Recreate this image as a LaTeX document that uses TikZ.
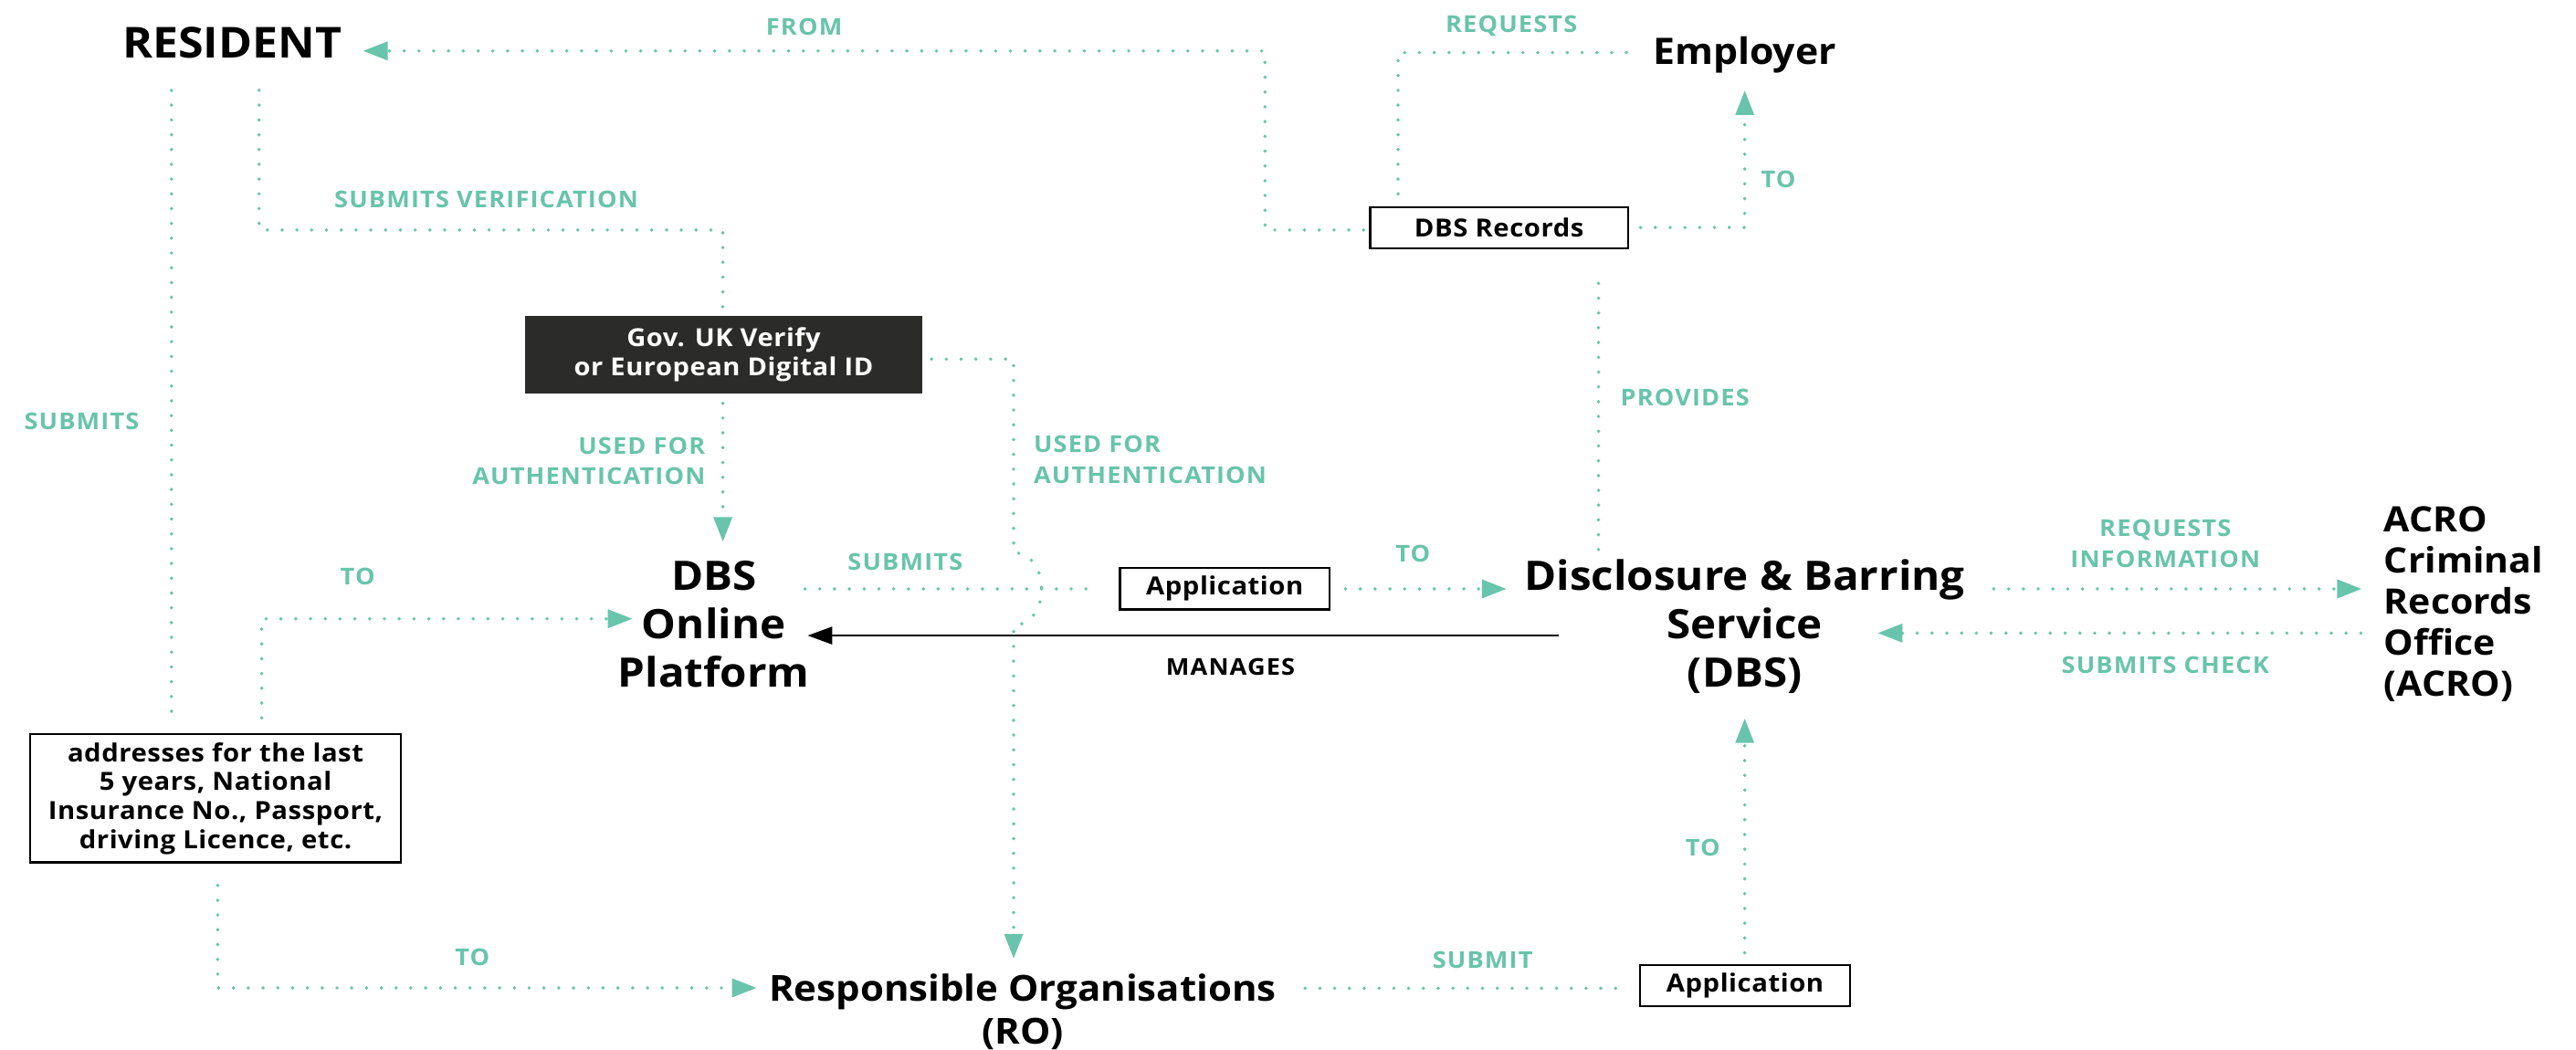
\documentclass[tikz,border=0pt]{standalone}
\usepackage{fontspec}
\setmainfont{Open Sans}[FakeStretch=1.07]
\newfontfamily\lblfont{Open Sans}[FakeStretch=1.07,LetterSpace=4.5]
\newfontfamily\boxfont{Open Sans}[FakeStretch=1.07,LetterSpace=2]
\usetikzlibrary{arrows.meta}
\definecolor{teal1}{RGB}{104,196,170}
\definecolor{govbg}{RGB}{43,43,41}
\begin{document}
\begin{tikzpicture}[x=1pt,y=-1pt,
  dotline/.style={draw=teal1, line width=2.2pt, line cap=round, dash pattern=on 0pt off 9pt},
  tip/.style={-{Triangle[length=15pt,width=11pt]}},
  lbl/.style={text=teal1, font=\lblfont\bfseries\fontsize{14.1}{18.8}\selectfont, inner sep=0pt},
  big/.style={font=\bfseries\fontsize{24.7}{29.5}\selectfont, align=center, inner sep=0pt},
  mid/.style={font=\bfseries\fontsize{21.3}{25}\selectfont, inner sep=0pt},
  box/.style={draw=black, line width=1.2pt, font=\boxfont\bfseries\fontsize{15.2}{17.6}\selectfont, align=center, inner sep=0pt},
]
\useasboundingbox (0,0) rectangle (1568,638.67);

% ---- main nodes
\node[font=\bfseries\fontsize{26}{30}\selectfont, inner sep=0pt, anchor=base] (resident) at (141.3,35.2) {RESIDENT};
\node[font=\bfseries\fontsize{22.2}{26}\selectfont, inner sep=0pt, anchor=base] (employer) at (1062,39.3) {Employer};
\node[box, minimum width=157pt, minimum height=25pt] (dbsrec) at (912.5,138.5) {DBS Records};
\node[box, draw=govbg, fill=govbg, text=white, font=\boxfont\bfseries\fontsize{15.1}{17.8}\selectfont, minimum width=241pt, minimum height=46pt] (gov) at (440.5,216) {Gov. UK Verify\\or European Digital ID};
\node[big] (dbsop) at (434.5,380) {DBS\\Online\\Platform};
\node[big] (dbs) at (1062,381.5) {Disclosure \& Barring\\Service\\(DBS)};
\node[mid, align=left, anchor=west] (acro) at (1451,368) {ACRO\\Criminal\\Records\\Office\\(ACRO)};
\node[box, minimum width=225.6pt, minimum height=78pt] (addr) at (131.2,486) {addresses for the last\\5 years, National\\Insurance No., Passport,\\driving Licence, etc.};
\node[mid, align=center, font=\bfseries\fontsize{21.8}{26}\selectfont] (ro) at (622.5,616) {Responsible Organisations\\(RO)};
\node[box, minimum width=127.5pt, minimum height=25.4pt] (app1) at (745.5,358.3) {Application};
\node[box, minimum width=127.6pt, minimum height=25pt] (app2) at (1062.2,599.9) {Application};

% ---- connector end points
\coordinate (fromA) at (830,140);
\coordinate (fromB) at (770,140);
\coordinate (fromC) at (770,31);
\coordinate (fromT) at (221,31);
\coordinate (reqA) at (990,32);
\coordinate (reqB) at (851,32);
\coordinate (reqC) at (851,121);
\coordinate (toeA) at (998.6,138.5);
\coordinate (toeB) at (1062,138.5);
\coordinate (toeT) at (1062,55);
\coordinate (provA) at (973,334.5);
\coordinate (provB) at (973,164);
\coordinate (svA) at (157.7,55);
\coordinate (svB) at (157.7,140);
\coordinate (svC) at (440,140);
\coordinate (svD) at (440,192.7);
\coordinate (ulA) at (440,245.5);
\coordinate (ulT) at (440,329.8);
\coordinate (urA) at (567,218.6);
\coordinate (urB) at (617,218.6);
\coordinate (urC) at (617,336.5);
\coordinate (urD) at (617,380.5);
\coordinate (urT) at (617,583.6);
\coordinate (sbA) at (104.4,55);
\coordinate (sbB) at (104.4,437.6);
\coordinate (tuA) at (159.3,437);
\coordinate (tuB) at (159.3,376.7);
\coordinate (tuT) at (385,376.7);
\coordinate (tlA) at (132.5,539);
\coordinate (tlB) at (132.5,601.4);
\coordinate (tlT) at (460.6,601.4);
\coordinate (smA) at (490,358.5);
\coordinate (smB) at (669,358.5);
\coordinate (tmA) at (819,358.5);
\coordinate (tmT) at (917,358.5);
\coordinate (mgA) at (949,386.9);
\coordinate (mgT) at (491.6,386.9);
\coordinate (riA) at (1213.6,358.5);
\coordinate (riT) at (1437.6,358.5);
\coordinate (scA) at (1437,385.4);
\coordinate (scT) at (1143,385.4);
\coordinate (suA) at (794.4,601.6);
\coordinate (suB) at (988.3,601.6);
\coordinate (tbA) at (1062,580);
\coordinate (tbT) at (1062,437.3);

% ---- connectors
\draw[dotline,tip] (fromA) -- (fromB) -- (fromC) -- (fromT);
\draw[dotline] (reqA) -- (reqB) -- (reqC);
\draw[dotline,tip] (toeA) -- (toeB) -- (toeT);
\draw[dotline] (provA) -- (provB);
\draw[dotline] (svA) -- (svB) -- (svC) -- (svD);
\draw[dotline,tip] (ulA) -- (ulT);
\draw[dotline,tip] (urA) -- (urB) -- (urC) .. controls (639.7,336.5) and (639.7,380.5) .. (urD) -- (urT);
\draw[dotline] (sbA) -- (sbB);
\draw[dotline,tip] (tuA) -- (tuB) -- (tuT);
\draw[dotline,tip] (tlA) -- (tlB) -- (tlT);
\draw[dotline] (smA) -- (smB);
\draw[dotline,tip] (tmA) -- (tmT);
\draw[black, line width=1pt, -{Triangle[length=15pt,width=10.7pt]}] (mgA) -- (mgT);
\draw[dotline,tip] (riA) -- (riT);
\draw[dotline,tip] (scA) -- (scT);
\draw[dotline] (suA) -- (suB);
\draw[dotline,tip] (tbA) -- (tbT);

% ---- labels
\node[lbl] (lfrom) at (489.5,16.1) {FROM};
\node[lbl] (lreq) at (920,16.1) {REQUESTS};
\node[lbl] (ltoe) at (1082.5,109) {TO};
\node[lbl] (lprov) at (1025.6,241.8) {PROVIDES};
\node[lbl] (lsv) at (296,121.4) {SUBMITS VERIFICATION};
\node[lbl] (lsb) at (49.7,256.6) {SUBMITS};
\node[lbl, align=right, anchor=east] (lul) at (429.5,280.7) {USED FOR\\AUTHENTICATION};
\node[lbl, align=left, anchor=west] (lur) at (629,279.6) {USED FOR\\AUTHENTICATION};
\node[lbl] (ltu) at (217.7,351) {TO};
\node[lbl] (lsm) at (551,342) {SUBMITS};
\node[lbl] (ltm) at (860,337) {TO};
\node[lbl, text=black] (lmg) at (749,405.8) {MANAGES};
\node[lbl, align=center] (lri) at (1318,331) {REQUESTS\\INFORMATION};
\node[lbl] (lsc) at (1318,404.8) {SUBMITS CHECK};
\node[lbl] (ltl) at (287.5,583) {TO};
\node[lbl] (lsu) at (902.5,584.6) {SUBMIT};
\node[lbl] (ltb) at (1036.5,516) {TO};
\end{tikzpicture}
\end{document}
